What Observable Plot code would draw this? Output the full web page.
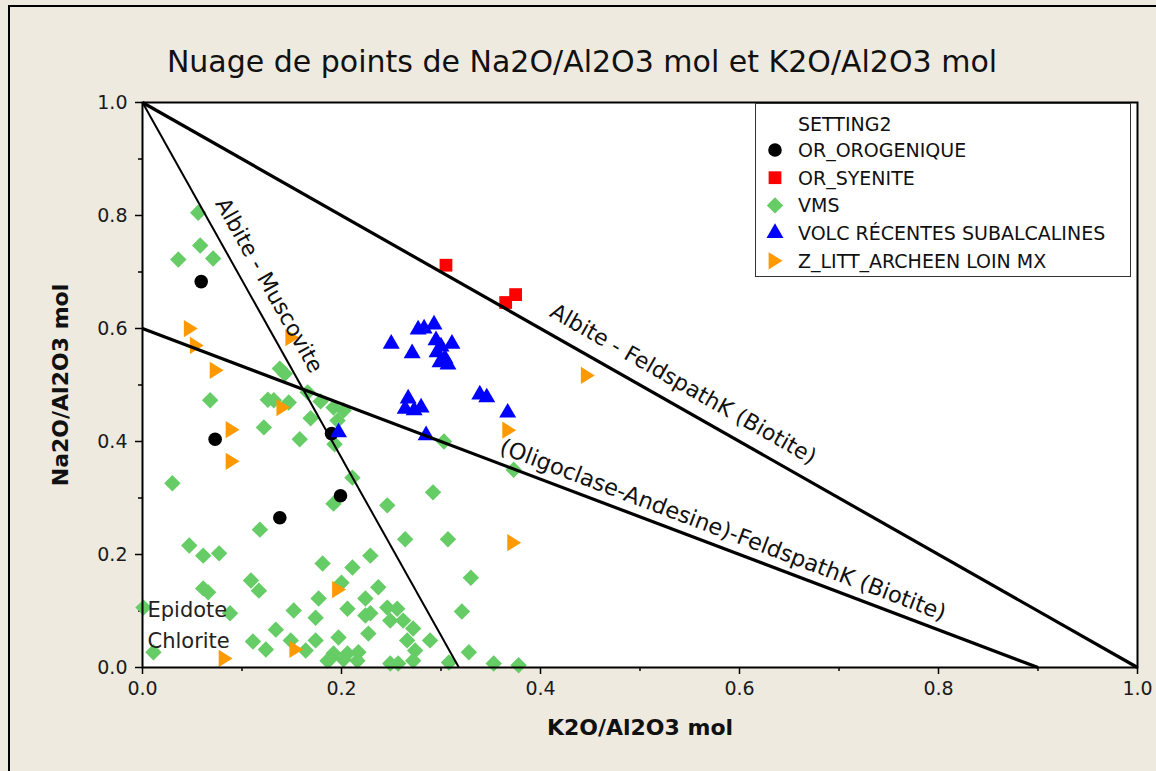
<!DOCTYPE html>
<html>
<head>
<meta charset="utf-8">
<script src="https://cdn.jsdelivr.net/npm/d3@7"></script>
<script src="https://cdn.jsdelivr.net/npm/@observablehq/plot@0.6"></script>
<style>
  html, body { margin: 0; padding: 0; background: #EEEAE0; }
  #page { position: relative; width: 1156px; height: 771px; overflow: hidden; background: #EEEAE0; }
  #border { position: absolute; left: 8px; top: 5px; width: 2000px; height: 2000px; border-left: 2px solid #000; border-top: 2px solid #000; pointer-events: none; }
  #chart { position: absolute; left: 0; top: 0; }
  #title { position: absolute; left: 0; top: 44px; width: 1156px; height: 36px; line-height: 36px; padding-left: 8px; box-sizing: border-box;
           text-align: center; font-family: "DejaVu Sans", sans-serif; font-size: 30px; color: #111; white-space: nowrap; }
  #legend { position: absolute; left: 755px; top: 103px; width: 376px; height: 174px; background: #fff; border: 1px solid #333; box-sizing: border-box; }
</style>
</head>
<body>
<div id="page">
  <div id="chart"></div>
  <div id="title">Nuage de points de Na2O/Al2O3 mol et K2O/Al2O3 mol</div>
  <div id="legend"></div>
  <div id="border"></div>
</div>
<script>
// ---------------- DATA ----------------
const legendTitle = "SETTING2";

// [K2O/Al2O3 mol, Na2O/Al2O3 mol]
const OR_OROGENIQUE = [[0.059,0.683],[0.073,0.404],[0.138,0.265],[0.199,0.304],[0.190,0.414]];

const OR_SYENITE = [[0.305,0.712],[0.365,0.646],[0.375,0.660]];

const VMS = [
  [0.056,0.805],[0.058,0.747],[0.036,0.722],[0.071,0.724],
  [0.138,0.529],[0.143,0.520],[0.068,0.473],[0.126,0.474],[0.132,0.473],[0.147,0.469],
  [0.166,0.487],[0.179,0.471],[0.192,0.460],[0.202,0.455],[0.169,0.441],[0.196,0.437],
  [0.122,0.425],[0.158,0.404],[0.193,0.395],[0.211,0.336],[0.192,0.290],[0.030,0.326],
  [0.118,0.244],[0.047,0.216],[0.061,0.198],[0.077,0.202],[0.181,0.184],[0.211,0.177],
  [0.229,0.198],[0.061,0.140],[0.066,0.133],[0.109,0.154],[0.117,0.136],[0.177,0.122],
  [0.206,0.104],[0.224,0.122],[0.001,0.106],[0.088,0.096],[0.152,0.101],[0.174,0.088],
  [0.229,0.096],[0.134,0.067],[0.111,0.046],[0.124,0.032],[0.149,0.048],[0.164,0.030],
  [0.174,0.048],[0.197,0.053],[0.192,0.025],[0.206,0.025],[0.217,0.027],[0.011,0.027],
  [0.189,0.016],[0.202,0.014],
  [0.292,0.310],[0.246,0.287],[0.264,0.227],[0.307,0.227],
  [0.330,0.159],[0.200,0.150],[0.237,0.142],[0.246,0.106],[0.256,0.104],[0.224,0.092],
  [0.249,0.083],[0.262,0.083],[0.321,0.099],[0.272,0.069],[0.227,0.060],[0.289,0.048],
  [0.266,0.048],[0.274,0.030],[0.328,0.027],[0.249,0.007],[0.257,0.007],[0.272,0.012],
  [0.308,0.009],[0.353,0.007],[0.378,0.004],[0.186,0.012],[0.216,0.012],
  [0.303,0.400],[0.373,0.350]
];

const VOLC_RECENTES = [
  [0.250,0.573],[0.271,0.556],[0.277,0.598],[0.283,0.600],[0.293,0.607],[0.295,0.579],
  [0.300,0.568],[0.311,0.573],[0.296,0.558],[0.304,0.547],[0.307,0.536],[0.299,0.540],
  [0.267,0.476],[0.264,0.458],[0.273,0.455],[0.280,0.460],[0.285,0.411],
  [0.339,0.483],[0.346,0.478],[0.367,0.451],[0.197,0.416]
];

const Z_LITT = [
  [0.048,0.600],[0.054,0.570],[0.074,0.526],[0.150,0.584],[0.141,0.460],[0.090,0.421],
  [0.090,0.365],[0.197,0.138],[0.154,0.032],[0.083,0.016],[0.368,0.420],[0.373,0.221],
  [0.447,0.517]
];

const seriesNames = ["OR_OROGENIQUE","OR_SYENITE","VMS","VOLC RÉCENTES SUBALCALINES","Z_LITT_ARCHEEN LOIN MX"];

// boundary lines of the diagram (endpoints in data units)
const boundaryLines = [
  {label: "Albite - FeldspathK (Biotite)", x1: 0, y1: 1, x2: 1, y2: 0},
  {label: "(Oligoclase-Andesine)-FeldspathK (Biotite)", x1: 0, y1: 0.6, x2: 0.9, y2: 0},
  {label: "Albite - Muscovite", x1: 0, y1: 1, x2: 0.318, y2: 0}
];

const fieldLabels = [
  {text: "Epidote", x: 0.005, y: 0.101},
  {text: "Chlorite", x: 0.005, y: 0.046}
];

const xTicks = [0, 0.2, 0.4, 0.6, 0.8, 1.0];
const xMinor = [0.1, 0.3, 0.5, 0.7, 0.9];
const yTicks = [0, 0.2, 0.4, 0.6, 0.8, 1.0];
const yMinor = [0.1, 0.3, 0.5, 0.7, 0.9];

// ---------------- STYLES ----------------
const W = 1156, H = 771, ML = 142, MR = 19, MT = 102, MB = 104;
const FONT = "DejaVu Sans, sans-serif";

const diamondSym = {draw(ctx, size) {
  const r = Math.sqrt(size) * 0.62625;
  ctx.moveTo(0, -r); ctx.lineTo(r, 0); ctx.lineTo(0, r); ctx.lineTo(-r, 0); ctx.closePath();
}};
const rightTriSym = {draw(ctx, size) {
  const s = Math.sqrt(size / Math.PI);
  ctx.moveTo(-0.85 * s, -1.15 * s); ctx.lineTo(1.0 * s, 0); ctx.lineTo(-0.85 * s, 1.15 * s); ctx.closePath();
}};

const seriesData = {
  "OR_OROGENIQUE": OR_OROGENIQUE,
  "OR_SYENITE": OR_SYENITE,
  "VMS": VMS,
  "VOLC RÉCENTES SUBALCALINES": VOLC_RECENTES,
  "Z_LITT_ARCHEEN LOIN MX": Z_LITT
};
const seriesStyle = {
  "OR_OROGENIQUE": {color: "#000000", plotSymbol: "circle", d3Symbol: d3.symbolCircle, r: 6.8},
  "OR_SYENITE": {color: "#FF0000", plotSymbol: "square", d3Symbol: d3.symbolSquare, r: 7.2},
  "VMS": {color: "#66CC66", plotSymbol: diamondSym, d3Symbol: diamondSym, r: 7.4},
  "VOLC RÉCENTES SUBALCALINES": {color: "#0000FF", plotSymbol: "triangle", d3Symbol: d3.symbolTriangle, r: 6.3},
  "Z_LITT_ARCHEEN LOIN MX": {color: "#FF9900", plotSymbol: rightTriSym, d3Symbol: rightTriSym, r: 7.5}
};
const drawOrder = ["VMS","OR_OROGENIQUE","OR_SYENITE","VOLC RÉCENTES SUBALCALINES","Z_LITT_ARCHEEN LOIN MX"];

const lineStyle = [
  {strokeWidth: 3.2, t: 0.5325, off: 22, fontSize: 22},
  {strokeWidth: 3.2, t: 0.6415, off: 17, fontSize: 22.5},
  {strokeWidth: 2, t: 0.342, off: 21, fontSize: 22}
];

// ---------------- MARKS ----------------
const pxX = W - ML - MR, pxY = H - MT - MB;

const lineMarks = boundaryLines.map((l, i) =>
  Plot.link([l], {x1: "x1", y1: "y1", x2: "x2", y2: "y2", stroke: "#000", strokeWidth: lineStyle[i].strokeWidth})
);

const lineLabelMarks = boundaryLines.map((l, i) => {
  const st = lineStyle[i];
  const a = Math.atan2(-(l.y2 - l.y1) * pxY, (l.x2 - l.x1) * pxX);
  const pos = {x: l.x1 + st.t * (l.x2 - l.x1), y: l.y1 + st.t * (l.y2 - l.y1), text: l.label};
  return Plot.text([pos], {
    x: "x", y: "y", text: "text", rotate: a * 180 / Math.PI,
    dx: Math.sin(a) * st.off, dy: -Math.cos(a) * st.off,
    fontSize: st.fontSize, fill: "#111", fontFamily: FONT
  });
});

const dotMarks = drawOrder.map(name => {
  const s = seriesStyle[name];
  return Plot.dot(seriesData[name], {
    x: d => d[0], y: d => d[1], symbol: s.plotSymbol, r: s.r, fill: s.color, stroke: "none"
  });
});

const fmt = d3.format(".1f");

const chart = Plot.plot({
  width: W, height: H,
  marginLeft: ML, marginRight: MR, marginTop: MT, marginBottom: MB,
  x: {domain: [0, 1]},
  y: {domain: [0, 1]},
  style: {background: "transparent", fontFamily: FONT, fontSize: "19px", color: "#1a1a1a", overflow: "visible"},
  marks: [
    Plot.frame({fill: "#fff", stroke: "none"}),
    Plot.axisX(xTicks, {tickSize: 7, tickPadding: 7, tickFormat: fmt, label: null, stroke: "#000", strokeWidth: 1.5}),
    Plot.axisX(xMinor, {tickSize: 4, tickFormat: () => "", label: null, stroke: "#000", strokeWidth: 1.5}),
    Plot.axisY(yTicks, {tickSize: 7, tickPadding: 8, tickFormat: fmt, label: null, stroke: "#000", strokeWidth: 1.5}),
    Plot.axisY(yMinor, {tickSize: 4, tickFormat: () => "", label: null, stroke: "#000", strokeWidth: 1.5}),
    ...dotMarks,
    ...lineMarks,
    Plot.frame({stroke: "#000", strokeWidth: 2}),
    ...lineLabelMarks,
    Plot.text(fieldLabels, {x: "x", y: "y", text: "text", textAnchor: "start", fontSize: 21, fill: "#222", fontFamily: FONT}),
    Plot.text(["K2O/Al2O3 mol"], {frameAnchor: "bottom", dy: 60, textAnchor: "middle", lineAnchor: "middle", fontWeight: "bold", fontSize: 22, fill: "#111", fontFamily: FONT}),
    Plot.text(["Na2O/Al2O3 mol"], {frameAnchor: "left", dx: -82, rotate: -90, textAnchor: "middle", lineAnchor: "middle", fontWeight: "bold", fontSize: 22, fill: "#111", fontFamily: FONT})
  ]
});
document.getElementById("chart").appendChild(chart);

// ---------------- LEGEND ----------------
const lg = d3.select("#legend").append("svg").attr("width", 374).attr("height", 172)
  .style("font-family", FONT).style("font-size", "19px");
lg.append("text").attr("x", 42).attr("y", 20).attr("dy", "0.36em").attr("fill", "#111").text(legendTitle);
seriesNames.forEach((name, i) => {
  const s = seriesStyle[name];
  const cy = 46 + i * 27.7;
  lg.append("path")
    .attr("d", d3.symbol(s.d3Symbol, Math.PI * s.r * s.r)())
    .attr("transform", `translate(19,${cy})`)
    .attr("fill", s.color);
  lg.append("text").attr("x", 42).attr("y", cy).attr("dy", "0.36em").attr("fill", "#111").text(name);
});
</script>
</body>
</html>
